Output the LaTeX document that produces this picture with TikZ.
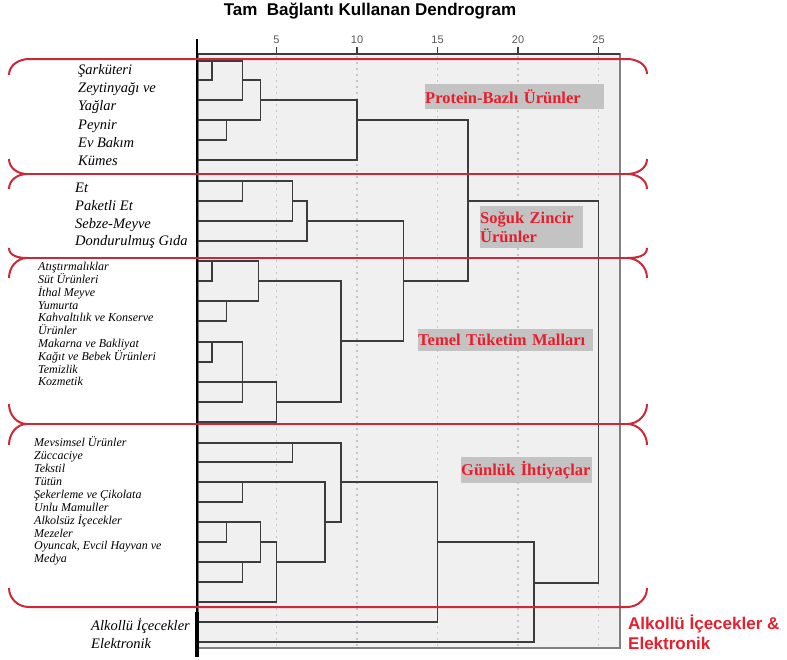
\documentclass[tikz,border=0pt]{standalone}
\usepackage{fontspec}
\setmainfont{Liberation Serif}
\setsansfont{Liberation Sans}
\definecolor{bracered}{RGB}{204,40,56}
\definecolor{tagred}{RGB}{232,30,45}
\definecolor{taggray}{RGB}{195,195,195}
\definecolor{panelgray}{RGB}{240,240,240}
\definecolor{linkgray}{RGB}{60,60,60}

% join two clusters at height #4, new cluster carried on row #5
\newcommand{\fuse}[5]{%
  \coordinate (#1) at (#4,#5);
  \draw[link] (#2) -| (#1 |- #3) -- (#3);
}

\begin{document}
\begin{tikzpicture}[x=1pt, y=-1pt,
  link/.style={draw=linkgray, line width=1.4pt},
  leaf/.style={anchor=west, inner sep=0pt, text height=1.5ex, text depth=0.3ex},
  tag/.style={fill=taggray, text=tagred, inner sep=0pt, align=left, anchor=north west,
    font=\bfseries\fontsize{16.5}{19}\selectfont},
  brace/.style={draw=bracered, line width=2pt, line join=round}]
  \useasboundingbox (0,0) rectangle (787,659);
  \node[font=\sffamily\bfseries\fontsize{17}{20}\selectfont, anchor=base] (title) at (370,15) {Tam\ \ Bağlantı Kullanan Dendrogram};

  % panel
  \path[fill=panelgray, draw=gray, line width=1.5pt] (198,54) rectangle (620,648);
  \begin{scope}[shift={(196,0)}, x=16.1pt]
    \foreach \tk in {5,10,...,25} {
      \draw[gray!45, line width=1.2pt, dash pattern=on 2pt off 4pt] (\tk,56) -- (\tk,647);
      \draw[linkgray, line width=1.2pt] (\tk,47) -- (\tk,54);
      \node[font=\sffamily\fontsize{11}{12}\selectfont, text=gray!70!black] (tick\tk) at (\tk,40) {\tk};
    }
    \foreach \y [count=\i] in {61,80,100,120,140,160} \coordinate (pr\i) at (0,\y);
    \foreach \y [count=\i] in {181,201,221,241} \coordinate (sz\i) at (0,\y);
    \foreach \y [count=\i] in {261,281,301,321,342,362,382,402,422} \coordinate (tt\i) at (0,\y);
    \foreach \y [count=\i] in {443,462,482,502,522,542,562,582,602} \coordinate (gi\i) at (0,\y);
    \foreach \y [count=\i] in {622,642} \coordinate (ae\i) at (0,\y);
    % protein
    \fuse{pr12}{pr1}{pr2}{1.0}{61}
    \fuse{pr123}{pr12}{pr3}{2.9}{80}
    \fuse{pr45}{pr4}{pr5}{1.9}{120}
    \fuse{pr15}{pr123}{pr45}{4.0}{100}
    \fuse{prall}{pr15}{pr6}{10.0}{120}
    % soguk zincir
    \fuse{sz12}{sz1}{sz2}{2.9}{181}
    \fuse{sz123}{sz12}{sz3}{6.0}{201}
    \fuse{szall}{sz123}{sz4}{6.9}{221}
    % temel tuketim
    \fuse{tt12}{tt1}{tt2}{1.0}{261}
    \fuse{tt34}{tt3}{tt4}{1.9}{301}
    \fuse{tt14}{tt12}{tt34}{3.9}{281}
    \fuse{tt56}{tt5}{tt6}{1.0}{342}
    \fuse{tt568}{tt56}{tt8}{2.9}{382}
    \fuse{tt59}{tt568}{tt9}{5.0}{402}
    \draw[link] (tt7) -- (tt7 -| tt59);
    \fuse{ttall}{tt14}{tt59}{9.0}{341}
    \fuse{szt}{szall}{ttall}{12.9}{281}
    \fuse{upper}{prall}{szt}{16.9}{201}
    % gunluk ihtiyaclar
    \fuse{gi12}{gi1}{gi2}{6.0}{443}
    \fuse{gi34}{gi3}{gi4}{2.9}{482}
    \fuse{gi56}{gi5}{gi6}{1.9}{522}
    \fuse{gi78}{gi7}{gi8}{2.9}{562}
    \fuse{gi58}{gi56}{gi78}{4.0}{542}
    \fuse{gi59}{gi58}{gi9}{5.0}{562}
    \fuse{gi39}{gi34}{gi59}{8.0}{522}
    \fuse{giall}{gi12}{gi39}{9.0}{482}
    \fuse{gia}{giall}{ae1}{15.0}{542}
    \fuse{lower}{gia}{ae2}{21.0}{583}
    \fuse{root}{upper}{lower}{25.0}{392}
  \end{scope}
  \draw[linkgray, line width=1.3pt] (197,54) -- (620,54);
  \draw[black, line width=2.5pt] (197,39) -- (197,657);
  \draw[black, line width=3.5pt] (197,612) -- (197,657);

  \node[tag, text width=179pt, minimum height=25pt] (protein) at (425,84) {Protein-Bazlı Ürünler};
  \node[tag, text width=103pt, minimum height=42pt] (soguk) at (480,206) {Soğuk Zincir\\Ürünler};
  \node[tag, text width=175pt, minimum height=22pt] (temel) at (418,329) {Temel Tüketim Malları};
  \node[tag, text width=131pt, minimum height=26pt] (gunluk) at (461,457) {Günlük İhtiyaçlar};

  % red brackets
  \draw[brace] (9,75) to[out=90,in=180] (29,59) -- (627,59) to[out=0,in=90] (647,74);
  \foreach \y/\up/\dn in {174/15/15, 258/10/20, 424/20/21} {
    \draw[brace] (9,{\y-\up}) to[out=-90,in=180] (27,\y) to[out=180,in=90] (9,{\y+\dn});
    \draw[brace] (27,\y) -- (627,\y);
    \draw[brace] (647,{\y-\up}) to[out=-90,in=0] (627,\y) to[out=0,in=90] (647,{\y+\dn});
  }
  \draw[brace] (9,588) to[out=-90,in=180] (29,607) -- (627,607) to[out=0,in=-90] (647,588);

  % leaf labels
  \foreach \txt [count=\i] in {Şarküteri,Zeytinyağı ve,Yağlar,Peynir,Ev Bakım,Kümes}
    \node[leaf, font=\itshape\fontsize{14.5}{16}\selectfont] (prlab\i) at (78,{72+18.1*(\i-1)}) {\txt};
  \foreach \txt [count=\i] in {Et,Paketli Et,Sebze-Meyve,Dondurulmuş Gıda}
    \node[leaf, font=\itshape\fontsize{14.5}{16}\selectfont] (szlab\i) at (75,{190+17.7*(\i-1)}) {\txt};
  \foreach \txt [count=\i] in {Atıştırmalıklar,Süt Ürünleri,İthal Meyve,Yumurta,Kahvaltılık ve Konserve,Ürünler,Makarna ve Bakliyat,Kağıt ve Bebek Ürünleri,Temizlik,Kozmetik}
    \node[leaf, font=\itshape\fontsize{12}{13}\selectfont] (ttlab\i) at (38,{268+12.8*(\i-1)}) {\txt};
  \foreach \txt [count=\i] in {Mevsimsel Ürünler,Züccaciye,Tekstil,Tütün,Şekerleme ve Çikolata,Unlu Mamuller,Alkolsüz İçecekler,Mezeler,{Oyuncak, Evcil Hayvan ve},Medya}
    \node[leaf, font=\itshape\fontsize{12}{13}\selectfont] (gilab\i) at (34,{444+12.9*(\i-1)}) {\txt};
  \node[leaf, font=\itshape\fontsize{14.5}{16}\selectfont] (aelab1) at (91,628) {Alkollü İçecekler};
  \begin{scope}
    \clip (0,0) rectangle (787,647);
    \node[leaf, font=\itshape\fontsize{14.5}{16}\selectfont] (aelab2) at (91,646) {Elektronik};
  \end{scope}
  \node[anchor=base west, inner sep=0pt, text=tagred, font=\sffamily\bfseries\fontsize{17}{20}\selectfont] (alkol) at (628,629) {Alkollü İçecekler \&};
  \node[anchor=base west, inner sep=0pt, text=tagred, font=\sffamily\bfseries\fontsize{17}{20}\selectfont] (elek) at (628,649) {Elektronik};
\end{tikzpicture}
\end{document}
